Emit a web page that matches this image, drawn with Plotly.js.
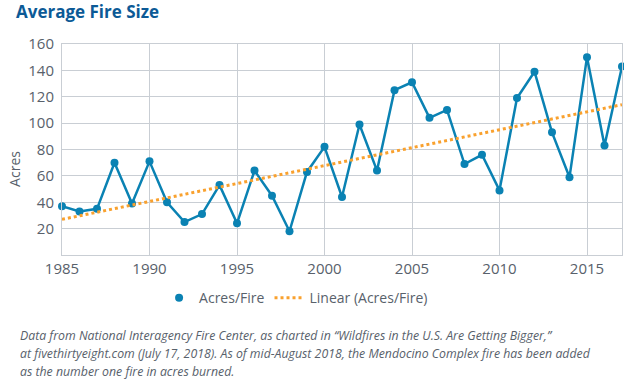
<!DOCTYPE html>
<html>
<head>
<meta charset="utf-8">
<script src="https://cdn.plot.ly/plotly-3.0.1.min.js"></script>
<style>html,body{margin:0;padding:0;background:#fff;}#chart{width:624px;height:379px;}</style>
</head>
<body>
<div id="chart"></div>
<script>
const years = [1985,1986,1987,1988,1989,1990,1991,1992,1993,1994,1995,1996,1997,1998,1999,2000,2001,2002,2003,2004,2005,2006,2007,2008,2009,2010,2011,2012,2013,2014,2015,2016,2017];
const acresPerFire = [37,33,35,70,39,71,40,25,31,53,24,64,45,18,63,82,44,99,64,125,131,104,110,69,76,49,119,139,93,59,150,83,143];
const trendYears = [1985, 2017];
const trendValues = [27, 114];
const yTicks = [20,40,60,80,100,120,140,160];
const xTicks = [1985,1990,1995,2000,2005,2010,2015];

const blue = '#0a82b3';
const orange = '#f9a12e';
const gridColor = '#c9ced4';
const textColor = '#58616b';
const fontFam = '"Open Sans", "Noto Sans", sans-serif';

const traces = [
  {x: years, y: acresPerFire, mode: 'lines+markers', name: 'Acres/Fire', showlegend: false,
   cliponaxis: false,
   line: {color: blue, width: 2.5}, marker: {color: blue, size: 8}},
  {x: [null], y: [null], mode: 'markers', name: 'Acres/Fire',
   marker: {color: blue, size: 8}},
  {x: trendYears, y: trendValues, mode: 'lines', name: 'Linear (Acres/Fire)', cliponaxis: false,
   line: {color: orange, width: 3, dash: 'dot'}}
];

const layout = {
  width: 624, height: 379,
  margin: {l: 62, r: 2, t: 44, b: 124},
  paper_bgcolor: '#fff', plot_bgcolor: '#fff',
  font: {family: fontFam, color: textColor, size: 15},
  showlegend: true,
  legend: {orientation: 'h', x: 0.418, xanchor: 'center', y: -0.205, yanchor: 'middle',
           font: {size: 14, color: textColor}, traceorder: 'normal'},
  xaxis: {range: [1985, 2017], tickvals: xTicks, ticktext: xTicks.map(String),
          showgrid: true, gridcolor: gridColor, gridwidth: 1,
          showline: true, linecolor: gridColor, linewidth: 1, mirror: true,
          zeroline: false, ticks: '', tickfont: {size: 15, color: textColor}},
  yaxis: {range: [0, 160], tickvals: yTicks, ticktext: yTicks.map(String),
          showgrid: true, gridcolor: gridColor, gridwidth: 1,
          showline: true, linecolor: gridColor, linewidth: 1, mirror: true,
          zeroline: false, ticks: '', ticklabelstandoff: 4, tickfont: {size: 15, color: textColor}},
  annotations: [
    {text: '<b>Average Fire Size</b>', xref: 'paper', yref: 'paper', x: -0.085, y: 1.155,
     xanchor: 'left', yanchor: 'middle', showarrow: false,
     font: {size: 17, color: '#0c5a96', family: fontFam}},
    {text: 'Acres', xref: 'paper', yref: 'paper', x: -0.085, y: 0.41, textangle: -90,
     xanchor: 'center', yanchor: 'middle', showarrow: false,
     font: {size: 14, color: textColor, family: fontFam}},
    {text: '<i>Data from National Interagency Fire Center, as charted in \u201cWildfires in the U.S. Are Getting Bigger,\u201d</i>',
     xref: 'paper', yref: 'paper', x: -0.078, y: -0.38, xanchor: 'left', yanchor: 'middle', showarrow: false,
     font: {size: 12.3, color: textColor, family: fontFam}},
    {text: '<i>at fivethirtyeight.com (July 17, 2018). As of mid-August 2018, the Mendocino Complex fire has been added</i>',
     xref: 'paper', yref: 'paper', x: -0.078, y: -0.465, xanchor: 'left', yanchor: 'middle', showarrow: false,
     font: {size: 12.3, color: textColor, family: fontFam}},
    {text: '<i>as the number one fire in acres burned.</i>',
     xref: 'paper', yref: 'paper', x: -0.078, y: -0.55, xanchor: 'left', yanchor: 'middle', showarrow: false,
     font: {size: 12.3, color: textColor, family: fontFam}}
  ]
};

Plotly.newPlot('chart', traces, layout, {displayModeBar: false, staticPlot: true});
</script>
</body>
</html>
